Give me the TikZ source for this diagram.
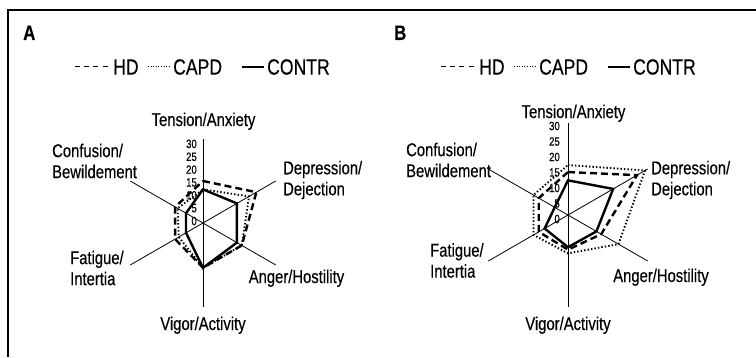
\documentclass[tikz,border=0pt]{standalone}
\usepackage{fontspec}
\setmainfont[FakeStretch=0.8,FakeBold=0.4]{Liberation Sans}

\begin{document}
\begin{tikzpicture}[x=1pt,y=1pt,line join=miter,
  ax/.style={line width=0.8pt},
  hd/.style={line width=2.4pt,dash pattern=on 7pt off 4pt},
  capd/.style={line width=1.9pt,dash pattern=on 1.4pt off 2.1pt},
  contr/.style={line width=2.4pt},
  khd/.style={line width=1pt,dash pattern=on 5pt off 4.2pt},
  kcapd/.style={line width=1pt,dash pattern=on 1pt off 1.6pt},
  kcontr/.style={line width=1.1pt},
  lab/.style={inner sep=0pt,font=\fontsize{18.5}{21}\selectfont},
  lab2/.style={lab,align=left,anchor=west},
  tck/.style={inner sep=0pt,anchor=east,font=\fontsize{12}{12}\selectfont},
  key/.style={inner sep=0pt,inner xsep=3pt,anchor=west,font=\fontsize{22}{22}\selectfont},
  pnl/.style={inner sep=0pt,anchor=base west,font=\fontsize{21}{21}\selectfont\bfseries}]
\useasboundingbox (0,0) rectangle (756,357);
\draw[line width=1.2pt] (8,0) -- (8,347) -- (756,347);
\def\radar#1#2#3#4#5#6#7{\draw[#1] (90:#2*\u) -- (30:#3*\u) -- (-30:#4*\u)
  -- (-90:#5*\u) -- (-150:#6*\u) -- (150:#7*\u) -- cycle;}

% panel A
\node[pnl] (pA) at (23,317) {A};
\node[key] (hdA) at (110,290) {HD};
\node[key] (capdA) at (170,290) {CAPD};
\node[key] (contrA) at (264,290) {CONTR};
\draw[khd] (75,290) coordinate (hdA0) -- (hdA.west);
\draw[kcapd] (148,290) coordinate (capdA0) -- (capdA.west);
\draw[kcontr] (242,290) coordinate (contrA0) -- (contrA.west);
\def\u{2.8}
\begin{scope}[shift={(203,134)}]
\coordinate (oA) at (0,0);
\foreach \a/\n in {90/t,30/d,-30/g,-90/v,-150/f,150/c}
  \draw[ax] (oA) -- (\a:30*\u) coordinate (A\n);
\foreach \v in {0,5,...,30}
  \node[tck] (tA\v) at (-6,{2+\v*2.57}) {\v};
\radar{capd}{12}{19}{16}{16}{10}{10.5}
\radar{hd}{15}{22}{16}{16}{11.5}{11.5}
\radar{contr}{12}{14}{14}{16}{7}{7}
\end{scope}
\node[lab,anchor=base] (tenA) at (203.5,231) {Tension/Anxiety};
\node[lab2] (conA) at (52,196) {Confusion/\\Bewildement};
\node[lab2] (depA) at (283,177) {Depression/\\Dejection};
\node[lab,anchor=base] (angA) at (296.5,74) {Anger/Hostility};
\node[lab,anchor=base] (vigA) at (203,27) {Vigor/Activity};
\node[lab2] (fatA) at (70,89) {Fatigue/\\Intertia};

% panel B
\node[pnl] (pB) at (394,317) {B};
\node[key] (hdB) at (476,290) {HD};
\node[key] (capdB) at (536,290) {CAPD};
\node[key] (contrB) at (630,290) {CONTR};
\draw[khd] (441,290) coordinate (hdB0) -- (hdB.west);
\draw[kcapd] (514,290) coordinate (capdB0) -- (capdB.west);
\draw[kcontr] (608,290) coordinate (contrB0) -- (contrB.west);
\def\u{3.067}
\begin{scope}[shift={(568,142)}]
\coordinate (oB) at (0,0);
\foreach \a/\n in {90/t,30/d,-30/g,-90/v,-150/f,150/c}
  \draw[ax] (oB) -- (\a:30*\u) coordinate (B\n);
\foreach \v in {0,5,...,30}
  \node[tck] (tB\v) at (-8,{-4+\v*3.1}) {\v};
\radar{capd}{16.3}{29}{19}{12.5}{13}{13}
\radar{hd}{14}{26}{12.5}{11.3}{11}{11}
\radar{contr}{11.3}{17}{10.7}{10.5}{8.8}{5}
\end{scope}
\node[lab,anchor=base] (tenB) at (573.5,239) {Tension/Anxiety};
\node[lab2] (conB) at (406,197) {Confusion/\\Bewildement};
\node[lab2] (depB) at (651,177) {Depression/\\Dejection};
\node[lab,anchor=base] (angB) at (661,75) {Anger/Hostility};
\node[lab,anchor=base] (vigB) at (568,27) {Vigor/Activity};
\node[lab2] (fatB) at (430,96.5) {Fatigue/\\Intertia};
\end{tikzpicture}
\end{document}
